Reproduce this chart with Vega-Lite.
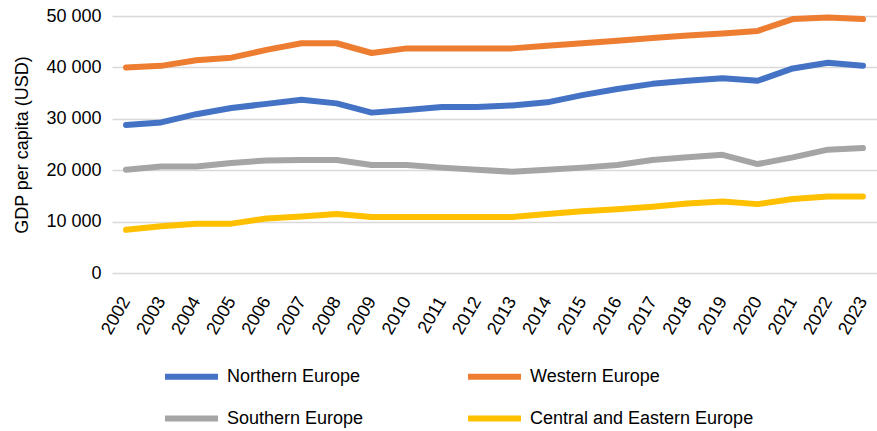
{
  "$schema": "https://vega.github.io/schema/vega-lite/v6.json",
  "width": 765,
  "height": 257,
  "autosize": {"type": "none"},
  "padding": {"left": 112, "top": 16, "right": 0, "bottom": 158},
  "config": {
    "font": "Liberation Sans",
    "view": {"stroke": null},
    "axis": {"labelColor": "#000000", "titleColor": "#000000", "labelFontSize": 18, "titleFontSize": 18, "titleFontWeight": "normal", "labelFont": "Liberation Sans", "titleFont": "Liberation Sans"}
  },
  "datasets": {
    "gdp": [
      {"year": "2002", "region": "Northern Europe", "gdp": 28800},
      {"year": "2003", "region": "Northern Europe", "gdp": 29300},
      {"year": "2004", "region": "Northern Europe", "gdp": 30900},
      {"year": "2005", "region": "Northern Europe", "gdp": 32100},
      {"year": "2006", "region": "Northern Europe", "gdp": 32900},
      {"year": "2007", "region": "Northern Europe", "gdp": 33700},
      {"year": "2008", "region": "Northern Europe", "gdp": 33000},
      {"year": "2009", "region": "Northern Europe", "gdp": 31200},
      {"year": "2010", "region": "Northern Europe", "gdp": 31700},
      {"year": "2011", "region": "Northern Europe", "gdp": 32300},
      {"year": "2012", "region": "Northern Europe", "gdp": 32300},
      {"year": "2013", "region": "Northern Europe", "gdp": 32600},
      {"year": "2014", "region": "Northern Europe", "gdp": 33200},
      {"year": "2015", "region": "Northern Europe", "gdp": 34600},
      {"year": "2016", "region": "Northern Europe", "gdp": 35800},
      {"year": "2017", "region": "Northern Europe", "gdp": 36800},
      {"year": "2018", "region": "Northern Europe", "gdp": 37400},
      {"year": "2019", "region": "Northern Europe", "gdp": 37900},
      {"year": "2020", "region": "Northern Europe", "gdp": 37400},
      {"year": "2021", "region": "Northern Europe", "gdp": 39800},
      {"year": "2022", "region": "Northern Europe", "gdp": 40900},
      {"year": "2023", "region": "Northern Europe", "gdp": 40300},
      {"year": "2002", "region": "Western Europe", "gdp": 40000},
      {"year": "2003", "region": "Western Europe", "gdp": 40300},
      {"year": "2004", "region": "Western Europe", "gdp": 41400},
      {"year": "2005", "region": "Western Europe", "gdp": 41900},
      {"year": "2006", "region": "Western Europe", "gdp": 43400},
      {"year": "2007", "region": "Western Europe", "gdp": 44700},
      {"year": "2008", "region": "Western Europe", "gdp": 44700},
      {"year": "2009", "region": "Western Europe", "gdp": 42800},
      {"year": "2010", "region": "Western Europe", "gdp": 43700},
      {"year": "2011", "region": "Western Europe", "gdp": 43700},
      {"year": "2012", "region": "Western Europe", "gdp": 43700},
      {"year": "2013", "region": "Western Europe", "gdp": 43700},
      {"year": "2014", "region": "Western Europe", "gdp": 44200},
      {"year": "2015", "region": "Western Europe", "gdp": 44700},
      {"year": "2016", "region": "Western Europe", "gdp": 45200},
      {"year": "2017", "region": "Western Europe", "gdp": 45700},
      {"year": "2018", "region": "Western Europe", "gdp": 46200},
      {"year": "2019", "region": "Western Europe", "gdp": 46600},
      {"year": "2020", "region": "Western Europe", "gdp": 47100},
      {"year": "2021", "region": "Western Europe", "gdp": 49400},
      {"year": "2022", "region": "Western Europe", "gdp": 49700},
      {"year": "2023", "region": "Western Europe", "gdp": 49400},
      {"year": "2002", "region": "Southern Europe", "gdp": 20100},
      {"year": "2003", "region": "Southern Europe", "gdp": 20700},
      {"year": "2004", "region": "Southern Europe", "gdp": 20700},
      {"year": "2005", "region": "Southern Europe", "gdp": 21400},
      {"year": "2006", "region": "Southern Europe", "gdp": 21900},
      {"year": "2007", "region": "Southern Europe", "gdp": 22000},
      {"year": "2008", "region": "Southern Europe", "gdp": 22000},
      {"year": "2009", "region": "Southern Europe", "gdp": 21000},
      {"year": "2010", "region": "Southern Europe", "gdp": 21000},
      {"year": "2011", "region": "Southern Europe", "gdp": 20500},
      {"year": "2012", "region": "Southern Europe", "gdp": 20100},
      {"year": "2013", "region": "Southern Europe", "gdp": 19700},
      {"year": "2014", "region": "Southern Europe", "gdp": 20100},
      {"year": "2015", "region": "Southern Europe", "gdp": 20500},
      {"year": "2016", "region": "Southern Europe", "gdp": 21000},
      {"year": "2017", "region": "Southern Europe", "gdp": 22000},
      {"year": "2018", "region": "Southern Europe", "gdp": 22500},
      {"year": "2019", "region": "Southern Europe", "gdp": 23000},
      {"year": "2020", "region": "Southern Europe", "gdp": 21200},
      {"year": "2021", "region": "Southern Europe", "gdp": 22500},
      {"year": "2022", "region": "Southern Europe", "gdp": 24000},
      {"year": "2023", "region": "Southern Europe", "gdp": 24300},
      {"year": "2002", "region": "Central and Eastern Europe", "gdp": 8400},
      {"year": "2003", "region": "Central and Eastern Europe", "gdp": 9100},
      {"year": "2004", "region": "Central and Eastern Europe", "gdp": 9600},
      {"year": "2005", "region": "Central and Eastern Europe", "gdp": 9600},
      {"year": "2006", "region": "Central and Eastern Europe", "gdp": 10600},
      {"year": "2007", "region": "Central and Eastern Europe", "gdp": 11000},
      {"year": "2008", "region": "Central and Eastern Europe", "gdp": 11500},
      {"year": "2009", "region": "Central and Eastern Europe", "gdp": 10900},
      {"year": "2010", "region": "Central and Eastern Europe", "gdp": 10900},
      {"year": "2011", "region": "Central and Eastern Europe", "gdp": 10900},
      {"year": "2012", "region": "Central and Eastern Europe", "gdp": 10900},
      {"year": "2013", "region": "Central and Eastern Europe", "gdp": 10900},
      {"year": "2014", "region": "Central and Eastern Europe", "gdp": 11500},
      {"year": "2015", "region": "Central and Eastern Europe", "gdp": 12000},
      {"year": "2016", "region": "Central and Eastern Europe", "gdp": 12400},
      {"year": "2017", "region": "Central and Eastern Europe", "gdp": 12900},
      {"year": "2018", "region": "Central and Eastern Europe", "gdp": 13500},
      {"year": "2019", "region": "Central and Eastern Europe", "gdp": 13900},
      {"year": "2020", "region": "Central and Eastern Europe", "gdp": 13400},
      {"year": "2021", "region": "Central and Eastern Europe", "gdp": 14400},
      {"year": "2022", "region": "Central and Eastern Europe", "gdp": 14900},
      {"year": "2023", "region": "Central and Eastern Europe", "gdp": 14900}
    ]
  },
  "data": {"name": "gdp"},
  "mark": {"type": "line", "strokeWidth": 6, "strokeCap": "round", "strokeJoin": "round"},
  "encoding": {
    "x": {
      "field": "year",
      "type": "ordinal",
      "scale": {"type": "point", "padding": 0.4},
      "axis": {"title": null, "domain": false, "ticks": false, "grid": false, "labelAngle": -60, "labelAlign": "right", "labelBaseline": "middle", "labelPadding": 25}
    },
    "y": {
      "field": "gdp",
      "type": "quantitative",
      "scale": {"domain": [0, 50000], "nice": false},
      "axis": {
        "title": "GDP per capita (USD)",
        "values": [0, 10000, 20000, 30000, 40000, 50000],
        "labelExpr": "replace(format(datum.value, ','), ',', ' ')",
        "domain": false,
        "ticks": false,
        "grid": true,
        "gridColor": "#d9d9d9",
        "gridWidth": 1.5,
        "labelPadding": 11,
        "titlePadding": 14
      }
    },
    "color": {
      "field": "region",
      "type": "nominal",
      "scale": {
        "domain": ["Northern Europe", "Western Europe", "Southern Europe", "Central and Eastern Europe"],
        "range": ["#4472C4", "#ED7D31", "#A5A5A5", "#FFC000"]
      },
      "legend": {
        "title": null,
        "orient": "none",
        "legendX": 50,
        "legendY": 331,
        "direction": "horizontal",
        "columns": 2,
        "padding": 0,
        "symbolType": "M-1,0L1,0",
        "symbolSize": 2809,
        "symbolStrokeWidth": 6,
        "labelFontSize": 18,
        "labelColor": "#000000",
        "labelFont": "Liberation Sans",
        "labelLimit": 0,
        "labelOffset": 6,
        "columnPadding": 92,
        "rowPadding": -16
      }
    }
  }
}
